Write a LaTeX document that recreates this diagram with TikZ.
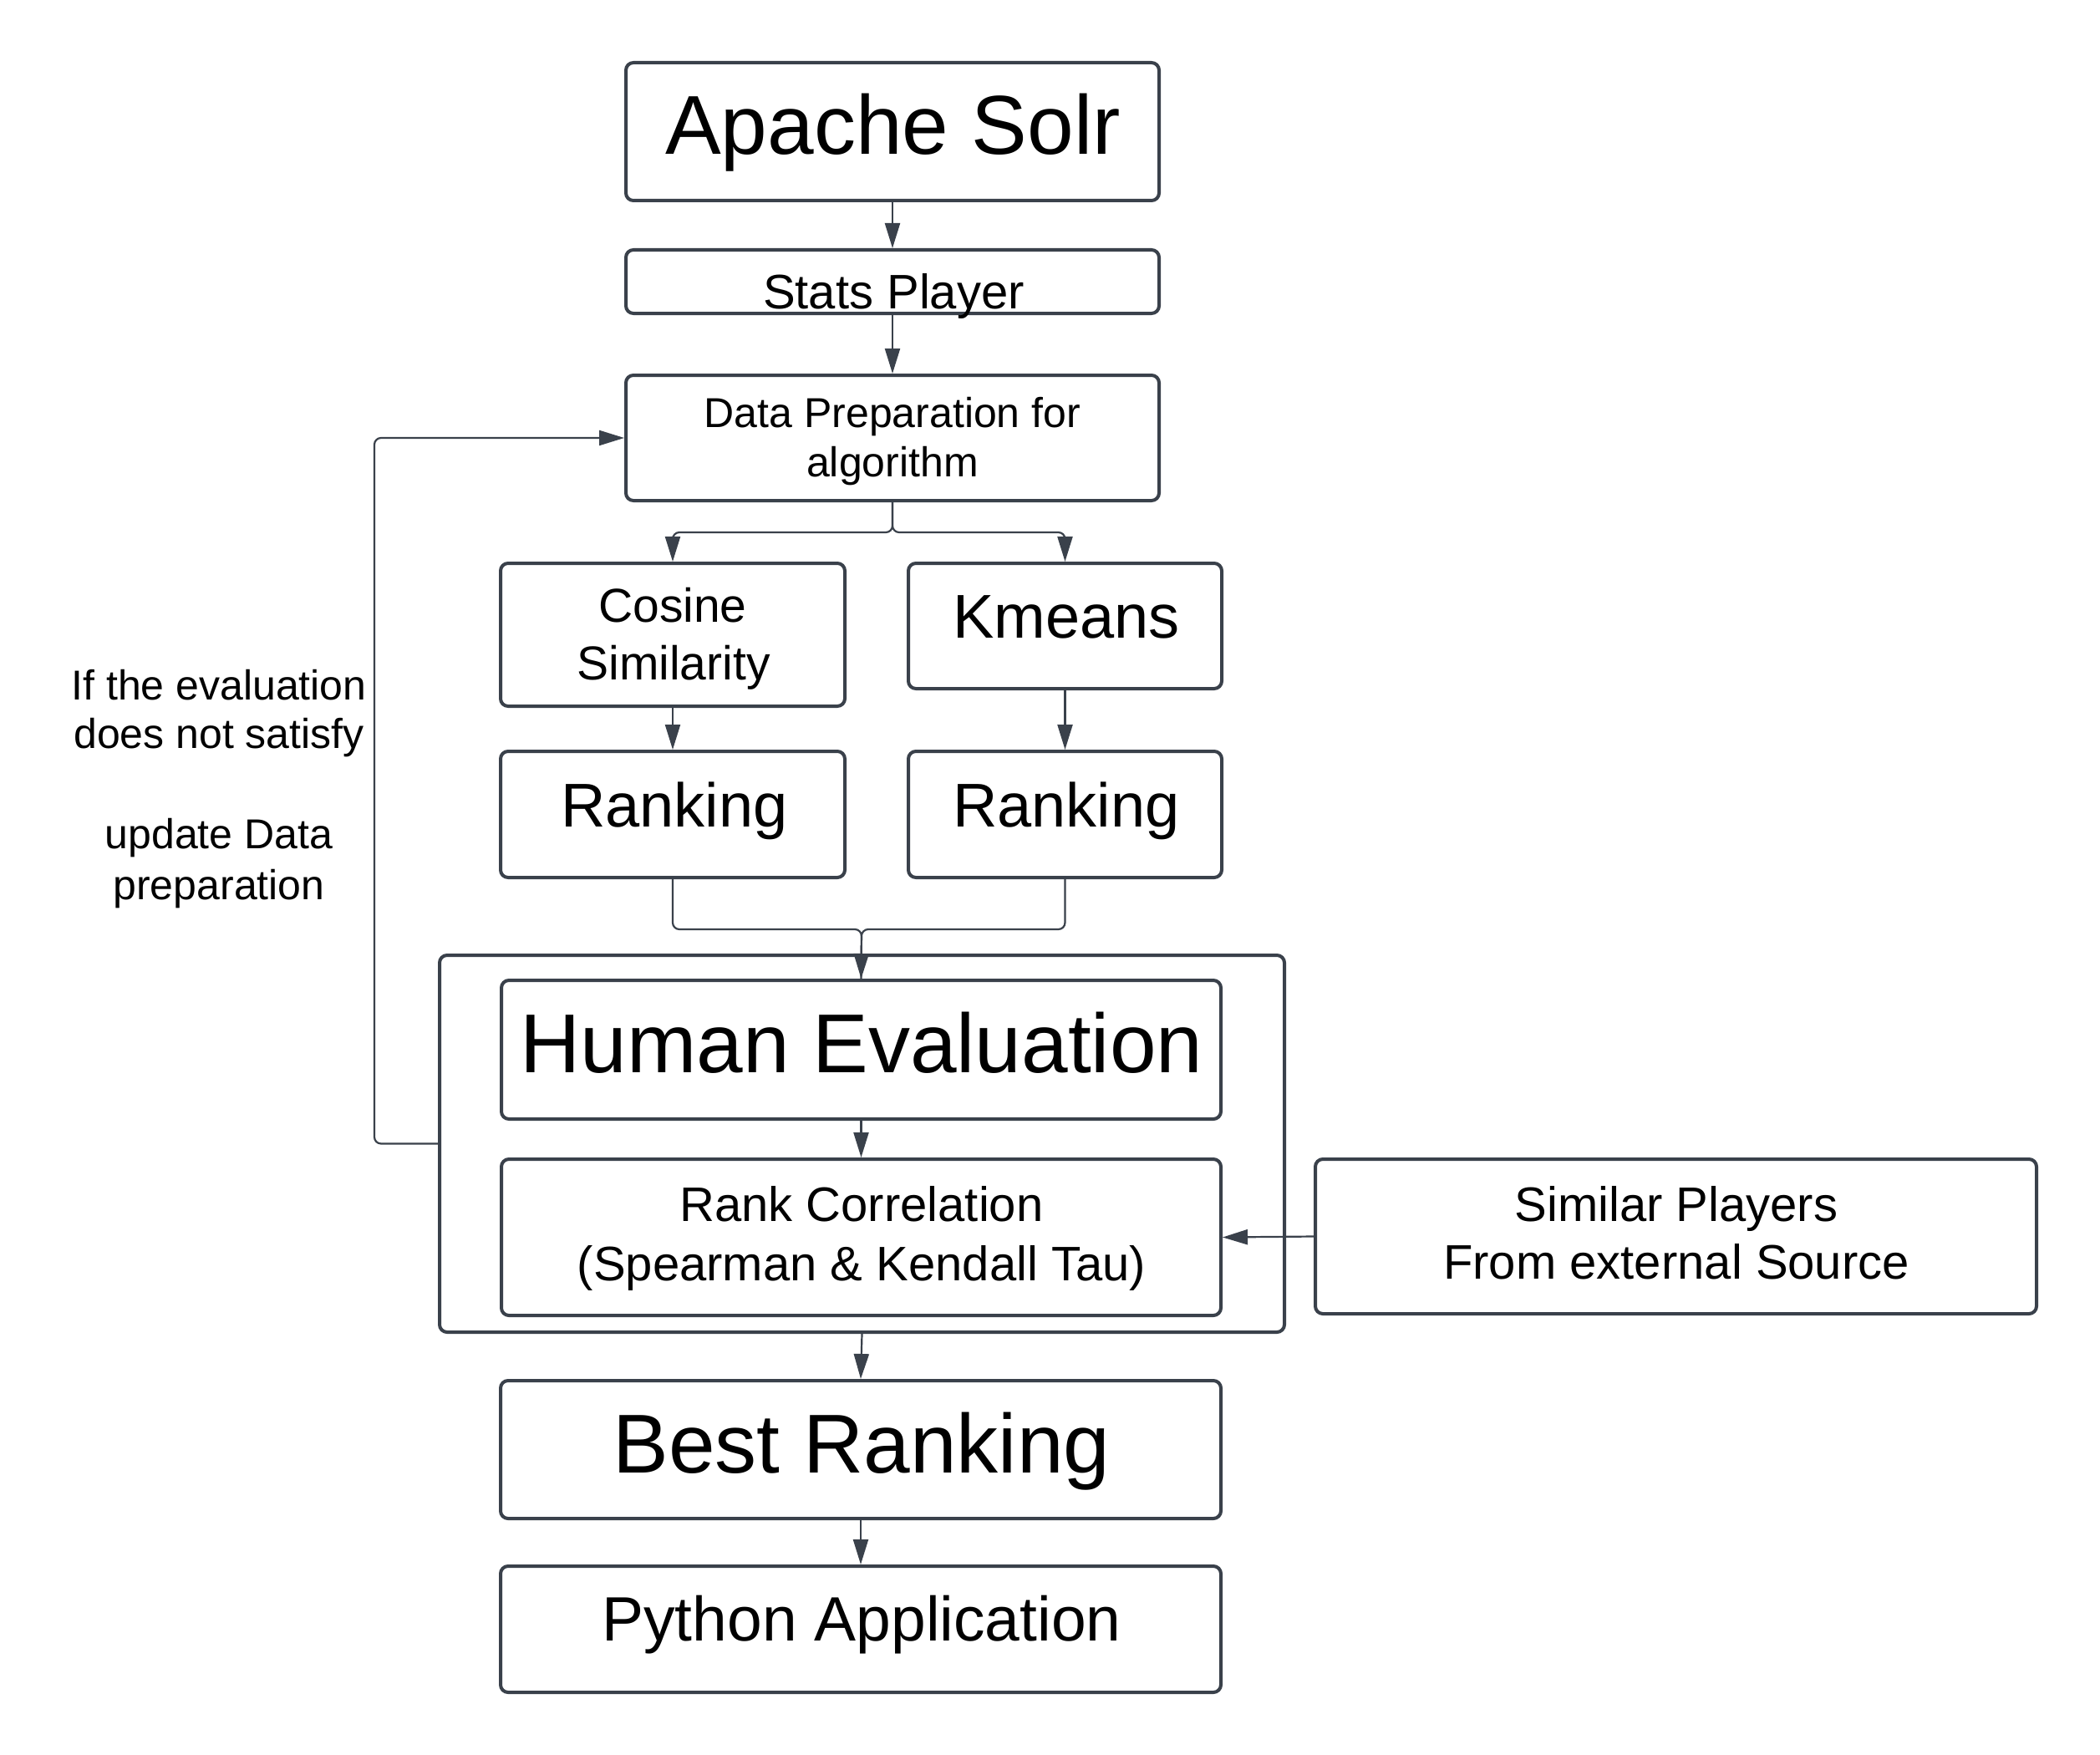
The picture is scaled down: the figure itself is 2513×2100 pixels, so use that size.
\documentclass[tikz,border=0pt]{standalone}
\usepackage{fontspec}
\setmainfont{Liberation Sans}
\usetikzlibrary{arrows.meta}
\definecolor{edge}{RGB}{58,65,75}
\begin{document}
\begin{tikzpicture}[x=1pt,y=-1pt,
  box/.style={draw=edge, line width=4pt, rounded corners=9pt, inner sep=0pt, fill=white},
  conn/.style={draw=edge, line width=2.2pt, rounded corners=8pt},
  arr/.style={conn, -{Triangle[length=30pt,width=18pt]}},
  txt/.style={inner sep=0pt, anchor=base, text=black},
  fA/.style={font=\fontsize{100}{120}\selectfont},
  fB/.style={font=\fontsize{74}{89}\selectfont},
  fP/.style={font=\fontsize{75}{90}\selectfont},
  fC/.style={font=\fontsize{58}{70}\selectfont},
  fD/.style={font=\fontsize{57}{69}\selectfont},
  fE/.style={font=\fontsize{58}{70}\selectfont},
  fF/.style={font=\fontsize{50}{60}\selectfont},
]
\useasboundingbox (0,0) rectangle (2513,2100);
\fill[white] (0,0) rectangle (2513,2100);

% container
\node[box, minimum width=1011pt, minimum height=451pt] (cont) at (1031.5,1368.5) {};

% boxes
\node[box, minimum width=638pt, minimum height=165pt] (solr) at (1068,157.5) {};
\node[box, minimum width=638pt, minimum height=76pt] (stats) at (1068,337) {};
\node[box, minimum width=638pt, minimum height=150pt] (prep) at (1068,524) {};
\node[box, minimum width=412pt, minimum height=171pt] (cosine) at (805,759.5) {};
\node[box, minimum width=375pt, minimum height=150pt] (kmeans) at (1274.5,749) {};
\node[box, minimum width=412pt, minimum height=151pt] (rankL) at (805,974.5) {};
\node[box, minimum width=375pt, minimum height=151pt] (rankR) at (1274.5,974.5) {};
\node[box, minimum width=861pt, minimum height=166pt] (human) at (1030.5,1256) {};
\node[box, minimum width=861pt, minimum height=187pt] (corr) at (1030.5,1480.5) {};
\node[box, minimum width=863pt, minimum height=185pt] (similar) at (2005.5,1479.5) {};
\node[box, minimum width=862pt, minimum height=165pt] (best) at (1030,1734.5) {};
\node[box, minimum width=862pt, minimum height=151pt] (python) at (1030,1949.5) {};

% texts
\node[txt, fA] (tSolr) at (1068.5,185) {Apache Solr};
\node[txt, fC] (tStats) at (1069.5,369) {Stats Player};
\node[txt, fF] (tPrep1) at (1068,511) {Data Preparation for};
\node[txt, fF] (tPrep2) at (1068,570) {algorithm};
\node[txt, fD] (tCos1) at (805,744) {Cosine};
\node[txt, fD] (tCos2) at (806,813) {Similarity};
\node[txt, fB] (tKm) at (1276,763) {Kmeans};
\node[txt, fB] (tRankL) at (807,989) {Ranking};
\node[txt, fB] (tRankR) at (1276,989) {Ranking};
\node[txt, fA] (tHuman) at (1031,1283) {Human Evaluation};
\node[txt, fE] (tCorr1) at (1031,1461) {Rank Correlation};
\node[txt, fE] (tCorr2) at (1031,1532) {(Spearman \& Kendall Tau)};
\node[txt, fE] (tSim1) at (2006,1461) {Similar Players};
\node[txt, fE] (tSim2) at (2006,1530) {From external Source};
\node[txt, fA] (tBest) at (1031,1762) {Best Ranking};
\node[txt, fP] (tPy) at (1031,1963) {Python Application};
\node[txt, fF] (tFb1) at (262,837) {If the evaluation};
\node[txt, fF] (tFb2) at (262,895) {does not satisfy};
\node[txt, fF] (tFb3) at (262,1015) {update Data};
\node[txt, fF] (tFb4) at (262,1076) {preparation};

% helper coordinates
\coordinate (split) at (1068,637);
\coordinate (merge) at (1031,1112);
\coordinate (fbB) at (448,1368.5);
\coordinate (fbT) at (448,524);

% connectors
\draw[arr] (solr.south) -- (stats.north);
\draw[arr] (stats.south) -- (prep.north);
\draw[arr] (prep.south) -- (split) -| (cosine.north);
\draw[arr] (prep.south) -- (split) -| (kmeans.north);
\draw[arr] (cosine.south) -- (rankL.north);
\draw[arr] (kmeans.south) -- (rankR.north);
\draw[conn] (rankR.south) |- (merge) -- (human.north);
\draw[arr] (rankL.south) |- (merge) -- (human.north);
\draw[arr] (human.south) -- (corr.north);
\draw[arr] (similar.west) -- (corr.east);
\draw[arr] (cont.south) -- (best.north);
\draw[arr] (best.south) -- (python.north);
\draw[arr] (cont.west) -- (fbB) -- (fbT) -- (prep.west);
\end{tikzpicture}
\end{document}
